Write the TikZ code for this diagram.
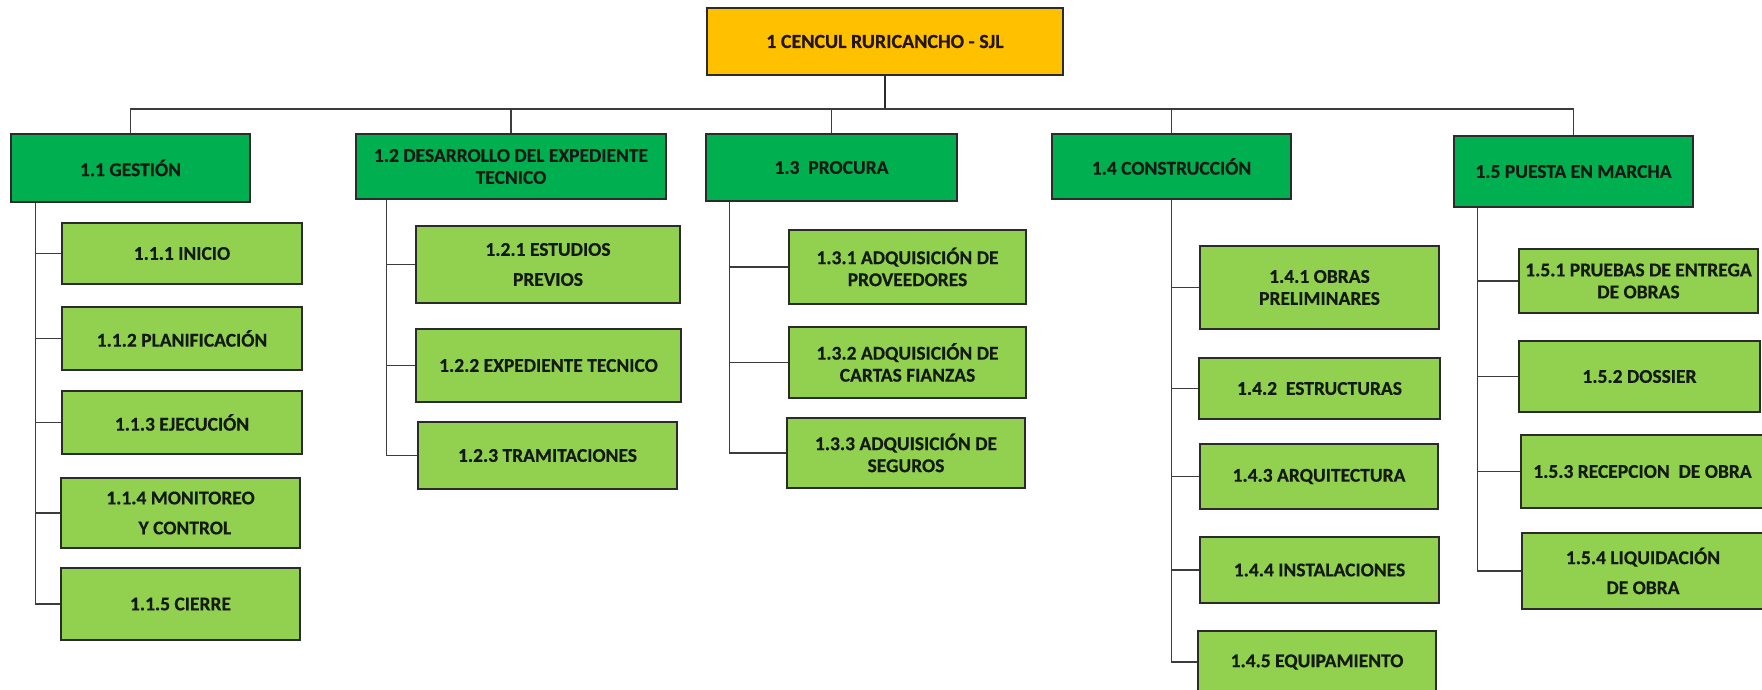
\documentclass[tikz,border=0pt]{standalone}
\usepackage{fontspec}
\setmainfont{Carlito}[BoldFeatures={FakeBold=0.5}]
\definecolor{gold}{HTML}{FFC000}
\definecolor{dkgreen}{HTML}{00B050}
\definecolor{ltgreen}{HTML}{92D050}
\definecolor{edge}{HTML}{2B2B2B}
\definecolor{wirecol}{HTML}{3C3C3C}
\definecolor{ink}{HTML}{141A14}
\definecolor{rootink}{HTML}{24160A}
\tikzset{
  box/.style={draw=edge, line width=1.4pt, inner sep=0pt, align=center,
    font=\bfseries\fontsize{19.5}{22}\selectfont, text=ink},
  topbox/.style={box, fill=gold, text=rootink, font=\bfseries\fontsize{20}{22}\selectfont},
  phase/.style={box, fill=dkgreen},
  task/.style={box, fill=ltgreen},
  wire/.style={draw=wirecol, line width=1.5pt},
  trunk/.style={draw=edge, line width=2.6pt},
}
\newcommand{\wbs}[7]{\node[#1, minimum width=#5pt, minimum height=#6pt] (#2) at (#3,#4) {#7};}
\begin{document}
\begin{tikzpicture}[x=1pt,y=-1pt]
\useasboundingbox (0,0) rectangle (1762,689);
\clip (0,0) rectangle (1762,689);

% project root
\wbs{topbox}{r}{885}{41.5}{356}{67}{1 CENCUL RURICANCHO - SJL}

% phases
\wbs{phase}{n11}{130.5}{168}{239}{68}{1.1 GESTIÓN}
\wbs{phase}{n12}{511}{166.5}{310}{65}{1.2 DESARROLLO DEL EXPEDIENTE\\TECNICO}
\wbs{phase}{n13}{831.5}{167.5}{251}{67}{1.3\ \ PROCURA}
\wbs{phase}{n14}{1171.5}{166.5}{239}{65}{1.4 CONSTRUCCIÓN}
\wbs{phase}{n15}{1573.5}{171.5}{239}{71}{1.5 PUESTA EN MARCHA}

% 1.1 work packages
\wbs{task}{n111}{182}{253.5}{240}{61}{1.1.1 INICIO}
\wbs{task}{n112}{182}{338.5}{240}{63}{1.1.2 PLANIFICACIÓN}
\wbs{task}{n113}{182}{422.5}{240}{63}{1.1.3 EJECUCIÓN}
\wbs{task}{n114}{180.5}{513}{239}{70}{1.1.4 MONITOREO\\[8pt]\ \ Y CONTROL}
\wbs{task}{n115}{180.5}{604}{239}{72}{1.1.5 CIERRE}

% 1.2 work packages
\wbs{task}{n121}{548}{264.5}{264}{77}{1.2.1 ESTUDIOS\\[8pt]PREVIOS}
\wbs{task}{n122}{548.5}{365.5}{265}{73}{1.2.2 EXPEDIENTE TECNICO}
\wbs{task}{n123}{547.5}{455.5}{259}{67}{1.2.3 TRAMITACIONES}

% 1.3 work packages
\wbs{task}{n131}{907.5}{267}{237}{74}{1.3.1 ADQUISICIÓN DE\\PROVEEDORES}
\wbs{task}{n132}{907.5}{362.5}{237}{71}{1.3.2 ADQUISICIÓN DE\\CARTAS FIANZAS}
\wbs{task}{n133}{906}{453}{238}{70}{1.3.3 ADQUISICIÓN DE\\SEGUROS}

% 1.4 work packages
\wbs{task}{n141}{1319.5}{287.5}{239}{83}{1.4.1 OBRAS\\PRELIMINARES}
\wbs{task}{n142}{1319.5}{388.5}{241}{61}{1.4.2\ \ ESTRUCTURAS}
\wbs{task}{n143}{1319}{476.5}{238}{65}{1.4.3 ARQUITECTURA}
\wbs{task}{n144}{1319.5}{570}{239}{66}{1.4.4 INSTALACIONES}
\wbs{task}{n145}{1317}{662}{238}{62}{1.4.5 EQUIPAMIENTO}

% 1.5 work packages
\wbs{task}{n151}{1638.5}{281}{239}{64}{1.5.1 PRUEBAS DE ENTREGA\\DE OBRAS}
\wbs{task}{n152}{1639.5}{376.5}{241}{71}{1.5.2 DOSSIER}
\wbs{task}{n153}{1642.5}{471.5}{243}{73}{1.5.3 RECEPCION\ \ DE OBRA}
\wbs{task}{n154}{1643}{571}{242}{76}{1.5.4 LIQUIDACIÓN\\[8pt]DE OBRA}

% root to phases
\coordinate (bus) at (r.south |- 0,109);
\draw[trunk] (r.south) -- (bus);
\draw[wire] (n11.north) |- (bus -| n15.north) -- (n15.north);
\foreach \p in {n12,n13,n14}
  \draw[wire] (\p.north) -- (\p.north |- bus);

% phase to work packages
\coordinate (s11) at ([xshift=25pt]n11.south west);
\coordinate (s12) at ([xshift=31pt]n12.south west);
\coordinate (s13) at ([xshift=24pt]n13.south west);
\coordinate (s14) at (n14.south);
\coordinate (s15) at ([xshift=24pt]n15.south west);

\draw[wire] (s11) |- (n115.west);
\foreach \c in {n111,n112,n113,n114}
  \draw[wire] (\c.west) -- (\c.west -| s11);

\draw[wire] (s12) |- (n123.west);
\foreach \c in {n121,n122}
  \draw[wire] (\c.west) -- (\c.west -| s12);

\draw[wire] (s13) |- (n133.west);
\foreach \c in {n131,n132}
  \draw[wire] (\c.west) -- (\c.west -| s13);

\draw[wire] (s14) |- (n145.west);
\foreach \c in {n141,n142,n143,n144}
  \draw[wire] (\c.west) -- (\c.west -| s14);

\draw[wire] (s15) |- (n154.west);
\foreach \c in {n151,n152,n153}
  \draw[wire] (\c.west) -- (\c.west -| s15);
\end{tikzpicture}
\end{document}
